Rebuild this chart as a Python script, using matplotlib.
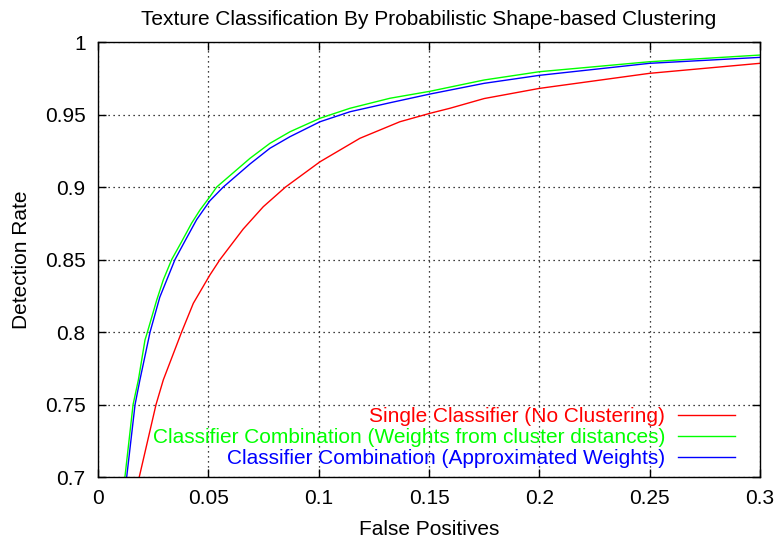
import matplotlib
matplotlib.use("Agg")
import matplotlib.pyplot as plt

plt.rcParams['font.family'] = ['Liberation Sans', 'DejaVu Sans']

# values
fp_single = [0.0187, 0.0263, 0.0296, 0.0379, 0.0432, 0.0507, 0.0553, 0.0658, 0.0749,
             0.085, 0.1006, 0.1187, 0.1368, 0.1504, 0.1595, 0.175, 0.2, 0.25, 0.3]
dr_single = [0.70, 0.75, 0.767, 0.80, 0.8198, 0.8393, 0.85, 0.871, 0.8864,
             0.90, 0.9174, 0.9336, 0.945, 0.9508, 0.9543, 0.961, 0.968, 0.9784, 0.9853]

fp_dist = [0.0122, 0.0159, 0.0183, 0.0213, 0.0224, 0.0266, 0.0296, 0.0334, 0.0379,
           0.0424, 0.0462, 0.0507, 0.0538, 0.0689, 0.0779, 0.087, 0.1006, 0.1142,
           0.1323, 0.1504, 0.175, 0.2, 0.25, 0.3]
dr_dist = [0.70, 0.75, 0.767, 0.7945, 0.80, 0.822, 0.836, 0.85, 0.8623,
           0.875, 0.8841, 0.8933, 0.90, 0.9198, 0.9301, 0.9381, 0.9474, 0.9543,
           0.9612, 0.966, 0.9738, 0.9795, 0.9864, 0.991]

fp_approx = [0.013, 0.0168, 0.019, 0.0236, 0.028, 0.0349, 0.0395, 0.0447, 0.0507,
             0.0568, 0.0689, 0.0779, 0.087, 0.1006, 0.1142, 0.1323, 0.1504, 0.175,
             0.2, 0.25, 0.3]
dr_approx = [0.70, 0.75, 0.767, 0.80, 0.824, 0.85, 0.863, 0.8775, 0.8905,
             0.90, 0.9159, 0.9267, 0.9347, 0.945, 0.9519, 0.9581, 0.9641, 0.9715,
             0.977, 0.9853, 0.9894]

labels = ["Single Classifier (No Clustering)",
          "Classifier Combination (Weights from cluster distances)",
          "Classifier Combination (Approximated Weights)"]
colors = ["#ff0000", "#00ff00", "#0000ff"]

xticks = [0, 0.05, 0.1, 0.15, 0.2, 0.25, 0.3]
xticklabels = ["0", "0.05", "0.1", "0.15", "0.2", "0.25", "0.3"]
yticks = [0.7, 0.75, 0.8, 0.85, 0.9, 0.95, 1.0]
yticklabels = ["0.7", "0.75", "0.8", "0.85", "0.9", "0.95", "1"]

fs = 15

fig = plt.figure(figsize=(7.75, 5.43), dpi=100)
ax = fig.add_axes([98/775, 1-477/543, 662/775, 435/543])

ax.plot(fp_single, dr_single, color=colors[0], lw=1, label=labels[0])
ax.plot(fp_dist, dr_dist, color=colors[1], lw=1, label=labels[1])
ax.plot(fp_approx, dr_approx, color=colors[2], lw=1, label=labels[2])

ax.set_xlim(0, 0.3)
ax.set_ylim(0.7, 1.0)
ax.set_xticks(xticks)
ax.set_xticklabels(xticklabels)
ax.set_yticks(yticks)
ax.set_yticklabels(yticklabels)
ax.tick_params(direction='in', length=6, width=1, top=True, right=True,
               labelsize=fs, pad=9)
ax.grid(True, color='black', linestyle=(0, (1, 3)), linewidth=0.9)
for s in ax.spines.values():
    s.set_linewidth(1)

ax.set_title("Texture Classification By Probabilistic Shape-based Clustering",
             fontsize=fs, pad=12)
ax.set_xlabel("False Positives", fontsize=fs, labelpad=8)
ax.set_ylabel("Detection Rate", fontsize=fs, labelpad=10)

ax.legend(loc='lower right', frameon=False, markerfirst=False, labelcolor='linecolor',
          fontsize=fs, handlelength=2.75, handletextpad=0.6, labelspacing=0.1,
          borderpad=0, borderaxespad=0, bbox_to_anchor=(0.962, 0.02))

fig.savefig("out.png", dpi=100)
